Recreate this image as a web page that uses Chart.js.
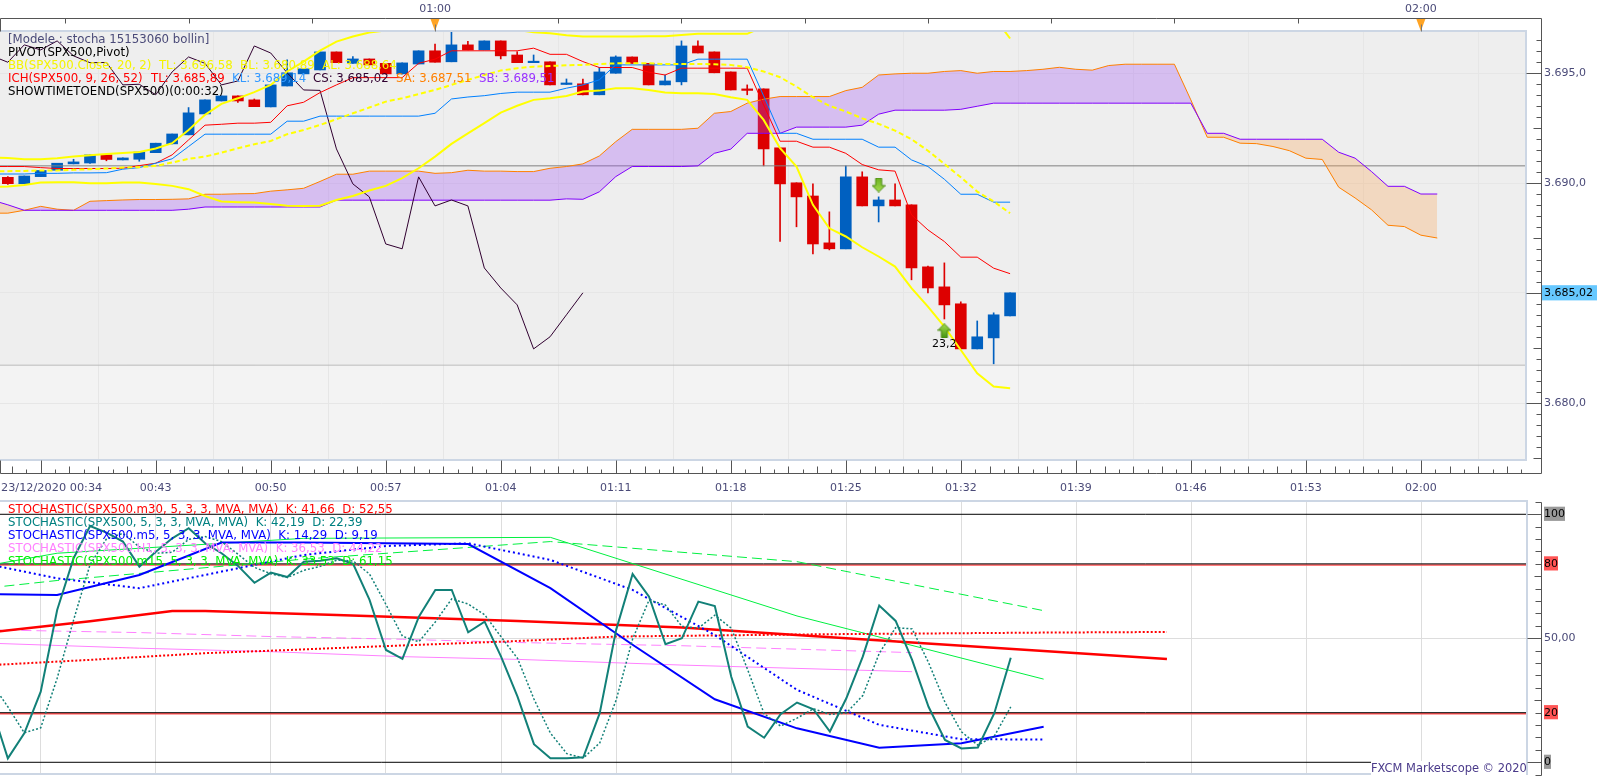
<!DOCTYPE html>
<html>
<head>
<meta charset="utf-8">
<script src="https://cdn.jsdelivr.net/npm/chart.js@4/dist/chart.umd.min.js"></script>
<style>
html,body{margin:0;padding:0;background:#fff;width:1599px;height:776px;overflow:hidden}
canvas{position:absolute;left:0;display:block}
.t{position:absolute;font:11.75px/14px "DejaVu Sans",sans-serif;white-space:pre;pointer-events:none}
</style>
</head>
<body>
<canvas id="price" width="1599" height="500" style="top:0"></canvas>
<canvas id="stoch" width="1599" height="276" style="top:500px"></canvas>

<div class="t" style="left:8px;top:32px;color:#4a4a78">[Modele : stocha 15153060 bollin]</div>
<div class="t" style="left:8px;top:45px;color:#000">PIVOT(SPX500,Pivot)</div>
<div class="t" style="left:8px;top:58px;color:#f4f400">BB(SPX500.Close, 20, 2)  TL: 3.696,58  BL: 3.680,89  AL: 3.688,64</div>
<div class="t" style="left:8px;top:71px;color:#f00">ICH(SPX500, 9, 26, 52)</div>
<div class="t" style="left:151px;top:71px;color:#f00">TL: 3.685,89</div>
<div class="t" style="left:232px;top:71px;color:#3399ff">KL: 3.689,14</div>
<div class="t" style="left:313px;top:71px;color:#300030">CS: 3.685,02</div>
<div class="t" style="left:396px;top:71px;color:#ff8000">SA: 3.687,51</div>
<div class="t" style="left:479px;top:71px;color:#9933ff">SB: 3.689,51</div>
<div class="t" style="left:8px;top:84px;color:#000">SHOWTIMETOEND(SPX500)(0:00:32)</div>
<div class="t" style="left:932px;top:337px;color:#000;font-size:11px">23,2</div>

<div class="t" style="left:8px;top:502px;color:#f00">STOCHASTIC(SPX500.m30, 5, 3, 3, MVA, MVA)  K: 41,66  D: 52,55</div>
<div class="t" style="left:8px;top:515px;color:#008080">STOCHASTIC(SPX500, 5, 3, 3, MVA, MVA)  K: 42,19  D: 22,39</div>
<div class="t" style="left:8px;top:528px;color:#0000ff">STOCHASTIC(SPX500.m5, 5, 3, 3, MVA, MVA)  K: 14,29  D: 9,19</div>
<div class="t" style="left:8px;top:541px;color:#ff80ff">STOCHASTIC(SPX500.H1, 5, 3, 3, MVA, MVA)  K: 36,53  D: 44,22</div>
<div class="t" style="left:8px;top:554px;color:#00f000">STOCHASTIC(SPX500.m15, 5, 3, 3, MVA, MVA)  K: 33,53  D: 61,15</div>
<div class="t" style="left:1371px;top:761px;color:#4a3a8a;background:#fff;width:155px;font-size:11.45px">FXCM Marketscope © 2020</div>

<script>
// ---- Candles: x value = minutes after 00:34 ----
const opens=[3690.27,3689.98,3690.30,3690.59,3690.88,3690.92,3691.29,3691.06,3691.09,3691.39,3691.79,3692.20,3693.15,3693.74,3693.97,3693.79,3693.47,3694.42,3694.97,3695.15,3695.97,3695.45,3695.65,3695.45,3694.97,3695.42,3696.02,3695.52,3696.29,3696.06,3696.47,3695.83,3695.48,3695.52,3694.49,3694.52,3694.02,3695.00,3695.74,3695.45,3694.47,3694.61,3696.24,3695.97,3695.06,3694.24,3694.29,3691.61,3690.02,3689.42,3687.29,3687.02,3690.29,3688.97,3689.24,3689.02,3686.20,3685.29,3684.52,3682.47,3682.97,3683.97];
const closes=[3689.98,3690.33,3690.58,3690.91,3690.97,3691.29,3691.08,3691.15,3691.42,3691.82,3692.24,3693.20,3693.79,3693.97,3693.74,3693.48,3694.47,3695.02,3695.20,3695.97,3695.48,3695.65,3695.38,3694.97,3695.47,3696.02,3695.50,3696.29,3696.06,3696.47,3695.79,3695.48,3695.49,3694.47,3694.50,3694.02,3695.06,3695.74,3695.45,3694.47,3694.65,3696.24,3695.92,3695.02,3694.24,3694.22,3691.56,3689.97,3689.38,3687.24,3687.02,3690.29,3688.97,3689.24,3688.97,3686.15,3685.24,3684.47,3682.47,3683.02,3684.02,3685.02];
const highs=[3690.30,3690.33,3690.58,3690.91,3691.09,3691.29,3691.29,3691.15,3691.42,3691.82,3692.24,3693.44,3693.79,3693.97,3693.97,3693.83,3694.47,3695.61,3695.20,3695.97,3695.97,3695.76,3695.65,3695.45,3695.47,3696.02,3696.33,3696.86,3696.45,3696.47,3696.47,3695.98,3695.83,3695.52,3694.74,3694.74,3695.26,3695.79,3695.74,3695.45,3694.92,3696.47,3696.47,3695.97,3695.06,3694.47,3694.29,3691.61,3690.02,3689.97,3688.70,3690.79,3690.52,3689.38,3689.97,3689.02,3686.24,3686.38,3684.61,3683.74,3684.11,3685.02];
const lows=[3689.95,3689.98,3690.30,3690.59,3690.88,3690.90,3691.02,3691.06,3691.00,3691.39,3691.79,3692.20,3693.15,3693.74,3693.67,3693.48,3693.47,3694.42,3694.97,3695.15,3695.48,3695.45,3695.38,3694.97,3694.97,3695.42,3695.50,3695.52,3696.06,3696.06,3695.65,3695.48,3695.48,3694.47,3694.49,3694.02,3694.02,3695.00,3695.45,3694.47,3694.47,3694.47,3695.92,3695.02,3694.24,3694.02,3690.79,3687.35,3688.02,3686.79,3686.97,3687.02,3688.97,3688.24,3688.97,3685.61,3685.02,3683.83,3682.47,3682.47,3681.79,3683.97];

// ---- Price indicators: first value is at minute -1 ----
const tenkan=[3690.76,3690.76,3690.76,3690.71,3690.67,3690.67,3690.67,3690.67,3690.68,3690.80,3690.91,3691.29,3691.97,3692.64,3692.68,3692.73,3692.73,3692.77,3693.52,3693.68,3694.12,3694.47,3694.80,3694.80,3694.80,3694.80,3695.45,3695.64,3696.02,3696.02,3696.02,3696.02,3696.02,3696.14,3695.86,3695.86,3695.53,3695.26,3695.26,3695.26,3695.05,3694.92,3695.23,3695.23,3695.23,3695.23,3695.23,3693.56,3691.91,3691.91,3691.64,3691.64,3691.36,3690.85,3690.61,3690.55,3688.56,3687.88,3687.35,3686.64,3686.64,3686.14,3685.89];
const kijun=[3690.42,3690.42,3690.42,3690.45,3690.45,3690.47,3690.47,3690.48,3690.64,3690.71,3690.91,3691.11,3691.67,3692.23,3692.23,3692.23,3692.23,3692.23,3692.82,3692.82,3693.05,3693.05,3693.05,3693.05,3693.05,3693.05,3693.05,3693.18,3693.83,3693.92,3693.98,3694.08,3694.14,3694.14,3694.14,3694.32,3694.47,3694.70,3695.38,3695.38,3695.38,3695.38,3695.38,3695.64,3695.64,3695.64,3695.64,3693.97,3692.27,3692.27,3692.00,3692.00,3692.00,3692.00,3691.64,3691.64,3691.06,3690.76,3690.18,3689.50,3689.50,3689.14,3689.14];
const spanA=[3688.64,3688.64,3688.77,3688.95,3688.82,3688.77,3689.18,3689.21,3689.24,3689.26,3689.26,3689.27,3689.29,3689.50,3689.50,3689.52,3689.53,3689.64,3689.70,3689.77,3690.08,3690.41,3690.41,3690.55,3690.55,3690.55,3690.55,3690.45,3690.48,3690.59,3690.55,3690.55,3690.53,3690.53,3690.68,3690.76,3690.88,3691.24,3691.89,3692.45,3692.45,3692.45,3692.45,3692.50,3693.18,3693.26,3693.64,3693.82,3693.94,3693.94,3693.94,3693.94,3694.21,3694.36,3694.92,3694.97,3695.00,3695.00,3695.08,3695.12,3695.00,3695.08,3695.08,3695.12,3695.18,3695.27,3695.18,3695.14,3695.35,3695.41,3695.41,3695.41,3695.41,3693.79,3692.09,3692.09,3691.82,3691.80,3691.67,3691.48,3691.14,3691.08,3689.82,3689.33,3688.79,3688.09,3688.03,3687.64,3687.51];
const spanB=[3689.24,3689.02,3688.77,3688.77,3688.77,3688.77,3688.77,3688.77,3688.77,3688.77,3688.77,3688.77,3688.82,3688.92,3688.92,3688.92,3688.92,3688.92,3688.92,3688.92,3688.92,3689.23,3689.23,3689.23,3689.23,3689.23,3689.23,3689.23,3689.23,3689.23,3689.23,3689.23,3689.23,3689.23,3689.23,3689.29,3689.27,3689.61,3690.30,3690.76,3690.76,3690.76,3690.76,3690.79,3691.36,3691.55,3692.27,3692.27,3692.27,3692.55,3692.55,3692.55,3692.55,3692.64,3693.14,3693.32,3693.32,3693.32,3693.32,3693.36,3693.50,3693.64,3693.64,3693.64,3693.64,3693.64,3693.64,3693.64,3693.64,3693.64,3693.64,3693.64,3693.64,3693.64,3692.27,3692.27,3692.00,3692.00,3692.00,3692.00,3692.00,3692.00,3691.41,3691.14,3690.53,3689.86,3689.86,3689.51,3689.51];
const chikou=[3695.80,3695.50,3696.29,3696.06,3696.47,3695.79,3695.48,3695.49,3694.47,3694.50,3694.02,3695.06,3695.74,3695.45,3694.47,3694.65,3696.24,3695.92,3695.02,3694.24,3694.22,3691.56,3689.97,3689.38,3687.24,3687.02,3690.29,3688.97,3689.24,3688.97,3686.15,3685.24,3684.47,3682.47,3683.02,3684.02,3685.02];
const bbUpper=[3691.17,3691.15,3691.09,3691.09,3691.14,3691.21,3691.27,3691.33,3691.38,3691.42,3691.58,3691.82,3692.42,3693.11,3693.61,3693.86,3694.14,3694.47,3695.08,3695.53,3696.03,3696.44,3696.67,3696.85,3696.94,3697.00,3697.05,3697.10,3697.10,3697.10,3697.05,3697.00,3696.97,3696.86,3696.82,3696.73,3696.67,3696.67,3696.67,3696.67,3696.68,3696.68,3696.74,3696.79,3696.79,3696.79,3696.79,3697.12,3697.60,3698.00,3698.20,3698.40,3698.40,3698.40,3698.40,3698.30,3698.20,3698.00,3697.90,3697.80,3697.70,3697.58,3696.58];
const bbLower=[3689.83,3689.85,3689.92,3690.03,3690.05,3690.05,3690.00,3690.00,3690.03,3690.03,3689.97,3689.88,3689.73,3689.42,3689.17,3689.14,3689.12,3689.06,3688.98,3688.97,3688.98,3689.24,3689.42,3689.67,3689.88,3690.23,3690.68,3691.21,3691.79,3692.27,3692.73,3693.21,3693.52,3693.79,3693.86,3693.97,3694.17,3694.21,3694.32,3694.32,3694.24,3694.12,3694.09,3694.09,3694.06,3693.91,3693.79,3692.88,3691.59,3690.76,3689.02,3687.95,3687.58,3687.09,3686.67,3686.21,3685.23,3684.39,3683.48,3682.42,3681.36,3680.76,3680.68];
const bbMiddle=[3690.53,3690.55,3690.56,3690.58,3690.58,3690.61,3690.64,3690.67,3690.71,3690.73,3690.79,3690.94,3691.11,3691.21,3691.39,3691.59,3691.77,3691.92,3692.23,3692.42,3692.65,3692.91,3693.18,3693.44,3693.71,3693.86,3694.05,3694.24,3694.47,3694.70,3694.92,3695.12,3695.23,3695.30,3695.33,3695.36,3695.38,3695.42,3695.45,3695.45,3695.45,3695.42,3695.42,3695.42,3695.41,3695.38,3695.27,3695.08,3694.82,3694.39,3693.91,3693.52,3693.26,3692.95,3692.70,3692.39,3692.00,3691.48,3690.88,3690.27,3689.62,3689.17,3688.64];
const pivotMinutes=[-1,93];
const pivotLevel=[3690.79,3690.79];
const lowLevel=[3681.73,3681.73];
const arrowUpMinute=[57], arrowUpPrice=[3683.29];
const arrowDownMinute=[53], arrowDownPrice=[3689.92];
const priceTicks=[3695,3690,3685.02,3680];
const priceTickLabels=['3.695,0','3.690,0','3.685,02','3.680,0'];

// ---- Stochastics ----
const tealK=[22.4,1.6,11.7,28.5,61.4,82.3,95.3,92.6,89,78.9,84.9,90.3,94.4,88.3,84.3,79.2,72.4,76.5,74.7,80.9,81.3,82.3,80,65.5,45.3,41.7,58.7,69.5,69.5,52.4,56.7,42.6,26.5,7.3,1.6,1.6,2,19.8,53.4,75.9,66.8,47.6,50,64.8,63,34.5,14.4,9.9,19.4,24.1,21.4,12.4,25.8,42.6,63.2,57,41.3,22.4,9,5.6,6,19.8,42.19];
const tealD=[32,22.4,11.9,13.9,33.9,57.4,79.7,90.1,92.3,86.8,84.3,84.7,89.9,91,89,83.9,78.6,76,74.5,77.4,79,81.5,81.2,75.9,63.6,50.8,48.6,56.6,65.9,63.8,59.5,50.6,41.9,25.5,11.8,3.5,1.7,7.8,25.1,49.7,65.4,63.4,54.8,54.1,59.3,54.1,37.3,19.6,14.6,17.8,21.6,19.3,19.9,26.9,43.9,54.3,53.8,40.2,24.2,12.3,6.9,10.5,22.39];
const m5Minutes=[-2,3,8,13,18,23,28,33,38,43,48,53,58,63];
const m5K=[67.9,67.5,75.5,88.6,88.6,88.3,88,70.2,47.4,25.4,13.7,5.9,7.7,14.29];
const m5D=[80.9,74.2,70.2,76.9,83.6,87.2,88.3,81.6,69.5,51.3,29.2,15.1,9.3,9.19];
const m30KMinutes=[-1,5,10,12,20,31,41,51,63,70.5];
const m30K=[52.5,56.9,61,61,59.4,57,54.4,50,44.9,41.66];
const m30DMinutes=[-1,5,12,16,22,31,37,49,63,70.5];
const m30D=[39.2,41.3,44,45,46.6,48.9,50.7,51.6,52.3,52.55];
const h1Minutes=[-1,8,16,24,31,41,55];
const h1K=[48,46,44.6,42.6,41.5,39.2,36.53];
const h1D=[53.4,52.3,50.7,49.6,48.3,47,44.22];
const m15Minutes=[-12,3,18,33,48,63];
const m15K=[66.7,84.3,90.3,90.7,59,33.53];
const m15D=[62.6,73.3,81.9,89,80.9,61.15];
const levelMinutes=[-1,93];
const stochTicks=[100,80,50,20,0];
const stochTickLabels=['100','80','50,00','20','0'];

// ---- Axis labels ----
const gridMinutes=[2,9,16,23,30,37,44,51,58,65,72,79,86];
const gridLabels=['','00:43','00:50','00:57','01:04','01:11','01:18','01:25','01:32','01:39','01:46','01:53','02:00'];
const hourMinutes=[26,86];
const hourLabels=['01:00','02:00'];
const startLabel=['23/12/2020 00:34'];

Chart.defaults.font.family='"DejaVu Sans",sans-serif';
Chart.defaults.font.size=11;
Chart.defaults.color='#4a4a78';

const XMIN=-0.477, XMAX=92.4;
const RED='#dd0000', BLUE='#0060c0';
const xy=(xs,ys)=>ys.map((y,k)=>({x:xs[k],y}));
const from=(start,ys)=>ys.map((y,k)=>({x:start+k,y}));
const line=(label,data,color,width,extra)=>Object.assign({type:'line',label,data,borderColor:color,borderWidth:width,pointRadius:0,fill:false,tension:0,order:3},extra||{});
const fit=(s,size)=>{ if(s.isHorizontal()) s.height=size; else s.width=size; s.paddingLeft=s.paddingRight=s.paddingTop=s.paddingBottom=0; };

function arrow(up){
  const c=document.createElement('canvas');c.width=14;c.height=15;
  const g=c.getContext('2d');
  const gr=g.createLinearGradient(0,0,0,15);
  gr.addColorStop(0,up?'#a8e050':'#6ab020');gr.addColorStop(1,up?'#3f9010':'#a8e050');
  g.fillStyle=gr;g.strokeStyle='#4a8a10';g.lineWidth=1;
  g.beginPath();
  if(up){g.moveTo(7,.5);g.lineTo(13.5,7);g.lineTo(10,7);g.lineTo(10,14.5);g.lineTo(4,14.5);g.lineTo(4,7);g.lineTo(.5,7);}
  else{g.moveTo(7,14.5);g.lineTo(13.5,8);g.lineTo(10,8);g.lineTo(10,.5);g.lineTo(4,.5);g.lineTo(4,8);g.lineTo(.5,8);}
  g.closePath();g.fill();g.stroke();
  return c;
}

const hline=(ctx,x1,y1,x2,y2,col)=>{ctx.strokeStyle=col;ctx.lineWidth=1;ctx.beginPath();ctx.moveTo(Math.round(x1)+.5,Math.round(y1)+.5);ctx.lineTo(Math.round(x2)+.5,Math.round(y2)+.5);ctx.stroke();};

const pricePanel={id:'pricePanel',
  beforeDraw(ch){
    const {ctx,chartArea:a,scales:{y}}=ch;
    const low=y.getPixelForValue(lowLevel[0]);
    ctx.save();
    ctx.fillStyle='#eeeeee';ctx.fillRect(a.left,a.top,a.width,low-a.top);
    ctx.fillStyle='#f3f3f3';ctx.fillRect(a.left,low,a.width,a.bottom-low);
    ctx.restore();
  },
  afterDraw(ch){
    const {ctx,chartArea:a,scales:{y,x}}=ch;
    const AX=1541, TOP=18, BOT=473, C='#555555';
    ctx.save();
    ctx.strokeStyle='#ccd6e4';ctx.lineWidth=2;
    ctx.beginPath();ctx.moveTo(a.left,a.top);ctx.lineTo(a.right,a.top);ctx.lineTo(a.right,a.bottom);ctx.lineTo(a.left,a.bottom);ctx.stroke();
    hline(ctx,0,TOP,AX,TOP,C);hline(ctx,0,BOT,AX,BOT,C);hline(ctx,AX,TOP,AX,BOT,C);
    hline(ctx,0,TOP,0,a.top,C);hline(ctx,0,a.bottom,0,BOT,C);
    for(let m=26-7.5*3;m<=XMAX;m+=7.5){const p=x.getPixelForValue(m);hline(ctx,p,TOP,p,TOP+5,C);}
    let n=0;
    for(let m=2-7;m<=XMAX;m+=7/8,n++){
      const p=x.getPixelForValue(m);if(p<0)continue;
      const h=n%8===0?13:(n%2===0?7:4);
      hline(ctx,p,BOT-h,p,BOT,C);
    }
    for(let v=3677.5;v<=3696.6;v+=0.5){
      const p=y.getPixelForValue(v);
      const major=Math.abs(v%5)<.01, mid=Math.abs(v%2.5)<.01;
      hline(ctx,major?a.right:(mid?AX-8:AX-5),p,AX,p,C);
    }
    hourMinutes.forEach(m=>{
      const p=x.getPixelForValue(m);
      ctx.fillStyle='#ffa424';ctx.beginPath();ctx.moveTo(p-4.5,TOP+1);ctx.lineTo(p+4.5,TOP+1);ctx.lineTo(p,a.top);ctx.closePath();ctx.fill();
      hline(ctx,p,TOP+6,p,a.top,'#777');
    });
    ctx.restore();
  }
};
const stochPanel={id:'stochPanel',
  afterDraw(ch){
    const {ctx,chartArea:a,scales:{y}}=ch;
    const AX=1541,C='#555555';
    ctx.save();
    ctx.strokeStyle='#ccd6e4';ctx.lineWidth=2;
    ctx.strokeRect(a.left-2,a.top,a.right-a.left+2,a.bottom-a.top);
    hline(ctx,AX,y.getPixelForValue(105),AX,y.getPixelForValue(-5),C);
    for(let v=-5;v<=105;v+=5){
      const p=y.getPixelForValue(v);
      const major=v%50===0, mid=v%25===0;
      hline(ctx,major?a.right:(mid?AX-7:AX-6),p,AX,p,C);
    }
    ctx.restore();
  }
};

const barIdx=opens.map((_,k)=>k);
const barColors=opens.map((o,k)=>closes[k]>o?BLUE:RED);

new Chart(document.getElementById('price'),{
  type:'line',
  data:{datasets:[
    {type:'bar',label:'wick',data:barIdx.map(k=>({x:k,y:[lows[k],highs[k]]})),backgroundColor:barColors,barThickness:1,grouped:false,order:11},
    {type:'bar',label:'body',data:barIdx.map(k=>({x:k,y:[opens[k],closes[k]]})),backgroundColor:barColors,barThickness:11,minBarLength:1.5,grouped:false,order:10},
    line('SB',from(-1,spanB),'#8000ff',1,{order:5}),
    line('SA',from(-1,spanA),'#ff8000',1,{order:5,fill:{target:2,above:'rgba(158,81,245,0.3)',below:'rgba(251,165,85,0.3)'}}),
    line('Pivot',xy(pivotMinutes,pivotLevel),'#808080',1,{order:6}),
    line('Low',xy(pivotMinutes,lowLevel),'#bbbbbb',1,{order:6}),
    line('CS',from(-1,chikou),'#300030',1,{order:4}),
    line('KL',from(-1,kijun),'#0080ff',1,{order:3}),
    line('TL',from(-1,tenkan),'#ff0000',1,{order:3}),
    line('BB top',from(-1,bbUpper),'#ffff00',2,{order:2}),
    line('BB low',from(-1,bbLower),'#ffff00',2,{order:2}),
    line('BB mid',from(-1,bbMiddle),'#ffff00',2,{order:2,borderDash:[5,3]}),
    {type:'line',label:'up',data:xy(arrowUpMinute,arrowUpPrice),showLine:false,pointStyle:arrow(true),pointRadius:7,order:1},
    {type:'line',label:'down',data:xy(arrowDownMinute,arrowDownPrice),showLine:false,pointStyle:arrow(false),pointRadius:7,order:1}
  ]},
  plugins:[pricePanel],
  options:{
    responsive:false,animation:false,devicePixelRatio:1,
    events:[],
    plugins:{legend:{display:false},tooltip:{enabled:false},title:{display:false}},
    layout:{padding:0,autoPadding:false},
    scales:{
      x:{type:'linear',position:'bottom',min:XMIN,max:XMAX,offset:false,
        afterFit(s){fit(s,40);},
        afterBuildTicks(s){s.ticks=gridMinutes.map(value=>({value}));},
        grid:{color:'#e6e6e6',drawTicks:false},border:{display:false},
        ticks:{autoSkip:false,maxRotation:0,padding:22,callback:(v)=>gridLabels[gridMinutes.indexOf(v)]}},
      xTop:{type:'linear',position:'top',min:XMIN,max:XMAX,offset:false,
        afterFit(s){fit(s,31);},
        afterBuildTicks(s){s.ticks=hourMinutes.map(value=>({value}));},
        grid:{display:false,drawTicks:false},border:{display:false},
        ticks:{autoSkip:false,maxRotation:0,padding:15,callback:(v)=>hourLabels[hourMinutes.indexOf(v)]}},
      y:{type:'linear',position:'right',min:3677.42,max:3696.92,
        afterFit(s){fit(s,73);},
        afterBuildTicks(s){s.ticks=priceTicks.map(value=>({value}));},
        grid:{color:'#e6e6e6',drawTicks:false},border:{display:false},
        ticks:{autoSkip:false,padding:18,
          callback:(v)=>priceTickLabels[priceTicks.indexOf(v)],
          color:(c)=>c.tick&&c.tick.value===3685.02?'#000':'#4a4a78',
          showLabelBackdrop:(c)=>!!(c.tick&&c.tick.value===3685.02),
          backdropColor:'#66c8ff',
          backdropPadding:{left:3,right:4,top:1,bottom:1}}}
    }
  }
});

new Chart(document.getElementById('stoch'),{
  type:'line',
  data:{datasets:[
    line('L100',xy(levelMinutes,[100,100]),'#000',1,{order:9}),
    line('L80r',xy(levelMinutes,[79.6,79.6]),'#ff5050',1.5,{order:9}),
    line('L80',xy(levelMinutes,[80,80]),'#000',1,{order:8}),
    line('L20r',xy(levelMinutes,[19.6,19.6]),'#ff5050',1.5,{order:9}),
    line('L20',xy(levelMinutes,[20,20]),'#000',1,{order:8}),
    line('L0',xy(levelMinutes,[0,0]),'#000',1,{order:9}),
    line('H1 K',xy(h1Minutes,h1K),'#ff80ff',1,{order:7}),
    line('H1 D',xy(h1Minutes,h1D),'#ff80ff',1,{order:7,borderDash:[10,5]}),
    line('M15 K',xy(m15Minutes,m15K),'#00f040',1,{order:6}),
    line('M15 D',xy(m15Minutes,m15D),'#00f040',1,{order:6,borderDash:[10,5]}),
    line('M30 K',xy(m30KMinutes,m30K),'#ff0000',2.5,{order:5}),
    line('M30 D',xy(m30DMinutes,m30D),'#ff0000',2,{order:5,borderDash:[2,2]}),
    line('M5 K',xy(m5Minutes,m5K),'#0000ff',2,{order:4}),
    line('M5 D',xy(m5Minutes,m5D),'#0000ff',2,{order:4,borderDash:[2,3]}),
    line('K',from(-1,tealK),'#128078',2,{order:3}),
    line('D',from(-1,tealD),'#128078',1.5,{order:3,borderDash:[2,2]})
  ]},
  plugins:[stochPanel],
  options:{
    responsive:false,animation:false,devicePixelRatio:1,
    events:[],
    plugins:{legend:{display:false},tooltip:{enabled:false},title:{display:false}},
    layout:{padding:{top:1,bottom:2},autoPadding:false},
    scales:{
      x:{type:'linear',position:'bottom',min:XMIN,max:XMAX,offset:false,
        afterFit(s){fit(s,0);},
        afterBuildTicks(s){s.ticks=gridMinutes.map(value=>({value}));},
        grid:{color:'#dddddd',drawTicks:false},border:{display:false},
        ticks:{display:false,autoSkip:false}},
      y:{type:'linear',position:'right',min:-4.72,max:105.36,
        afterFit(s){fit(s,72);},
        afterBuildTicks(s){s.ticks=stochTicks.map(value=>({value}));},
        grid:{color:(c)=>c.tick&&c.tick.value===50?'#dddddd':'rgba(0,0,0,0)',drawTicks:false},border:{display:false},
        ticks:{autoSkip:false,padding:17,
          callback:(v)=>stochTickLabels[stochTicks.indexOf(v)],
          color:(c)=>c.tick&&c.tick.value===50?'#4a4a78':'#000',
          showLabelBackdrop:(c)=>!!(c.tick&&c.tick.value!==50),
          backdropColor:(c)=>c.tick&&(c.tick.value===80||c.tick.value===20)?'#ff5555':'#999999',
          backdropPadding:{left:0,right:0,top:1,bottom:0}}}
    }
  }
});
const s=document.createElement('div');s.className='t';s.style.cssText='left:1px;top:481px;color:#4a4a78;font-size:11.3px';s.textContent=startLabel[0];document.body.appendChild(s);
</script>
</body>
</html>
